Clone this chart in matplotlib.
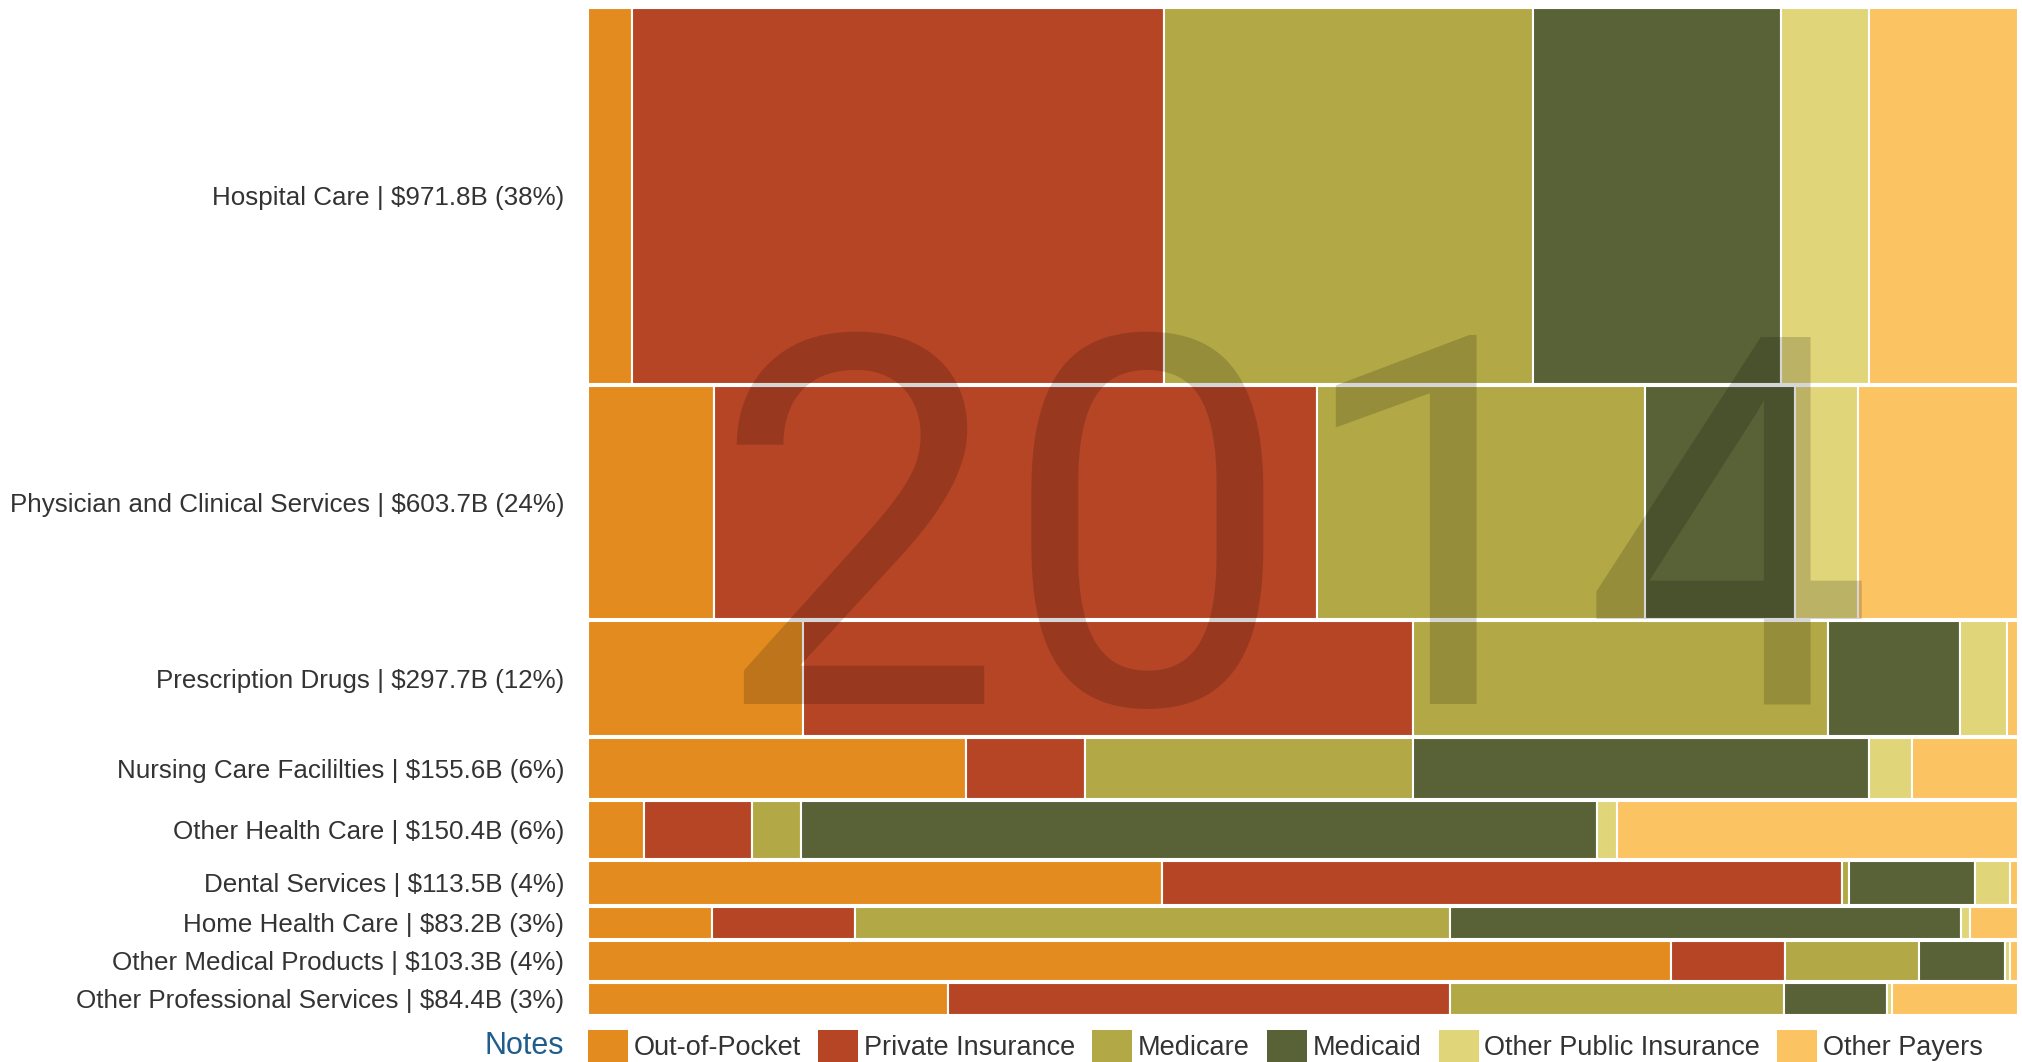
import matplotlib
matplotlib.use("Agg")
import matplotlib.pyplot as plt
import numpy as np
from matplotlib.patches import Patch

plt.rcParams['font.family'] = ['Liberation Sans', 'DejaVu Sans']

# spending by service, $ billions, 2014
categories = ["Hospital Care", "Physician and Clinical Services", "Prescription Drugs",
              "Nursing Care Facililties", "Other Health Care", "Dental Services",
              "Home Health Care", "Other Medical Products", "Other Professional Services"]
spending = [971.8, 603.7, 297.7, 155.6, 150.4, 113.5, 83.2, 103.3, 84.4]
pct_total = [38, 24, 12, 6, 6, 4, 3, 4, 3]

# share of each service paid by each payer (%)
payers = ["Out-of-Pocket", "Private Insurance", "Medicare", "Medicaid",
          "Other Public Insurance", "Other Payers"]
oop = [3.1, 8.8, 15.0, 26.4, 3.9, 40.1, 8.7, 75.7, 25.2]
private = [37.2, 42.1, 42.7, 8.3, 7.6, 47.5, 10.0, 8.0, 35.1]
medicare = [25.8, 22.9, 29.0, 22.9, 3.4, 0.5, 41.6, 9.4, 23.3]
medicaid = [17.3, 10.5, 9.2, 31.9, 55.7, 8.8, 35.7, 6.0, 7.2]
other_public = [6.2, 4.4, 3.3, 3.0, 1.4, 2.4, 0.6, 0.3, 0.4]
other_payers = [10.4, 11.2, 0.8, 7.4, 28.1, 0.6, 3.4, 0.6, 8.8]

colors = ['#e38b1f', '#b64526', '#b2a946', '#586236', '#e1d57a', '#fcc363']

shares = np.array([oop, private, medicare, medicaid, other_public, other_payers])
shares = shares / shares.sum(axis=0)

fig = plt.figure(figsize=(20.22, 10.62), dpi=100)
ax = fig.add_axes([0.2908, 0.044, 0.7073, 0.9487])

gap = 5
heights = np.array(spending)
tops = np.concatenate([[0], np.cumsum(heights + gap)[:-1]])
centers = tops + heights / 2

left = np.zeros(len(categories))
for i in range(len(payers)):
    ax.barh(centers, shares[i], height=heights, left=left, color=colors[i],
            edgecolor='white', linewidth=1.5, label=payers[i])
    left += shares[i]

ax.set_xlim(0, 1)
ax.set_ylim(tops[-1] + heights[-1], 0)
labels = ["%s | $%.1fB (%d%%)" % (c, s, p) for c, s, p in zip(categories, spending, pct_total)]
ax.set_yticks(centers, labels)
ax.tick_params(axis='y', length=0, pad=17, labelsize=18.7, labelcolor='#333333')
ax.set_xticks([])
for s in ax.spines.values():
    s.set_visible(False)

# big year watermark
ax.text(0.493, 0.309, "2014", transform=ax.transAxes, ha='center', va='baseline',
        fontsize=372, family=['Roboto', 'Liberation Sans'], color='black',
        alpha=0.16, zorder=5)

handles = [Patch(facecolor=c, label=p) for c, p in zip(colors, payers)]
fig.legend(handles=handles, loc='center left', bbox_to_anchor=(0.2908, 0.015),
           ncol=6, frameon=False, fontsize=19.5, handlelength=1.48, handleheight=1.45,
           handletextpad=0.2, columnspacing=0.64, borderpad=0, borderaxespad=0,
           labelcolor='#333333')
fig.text(0.2787, 0.015, "Notes", ha='right', va='center', fontsize=22, color='#1f5d8c')

fig.savefig("out.png", dpi=100)
